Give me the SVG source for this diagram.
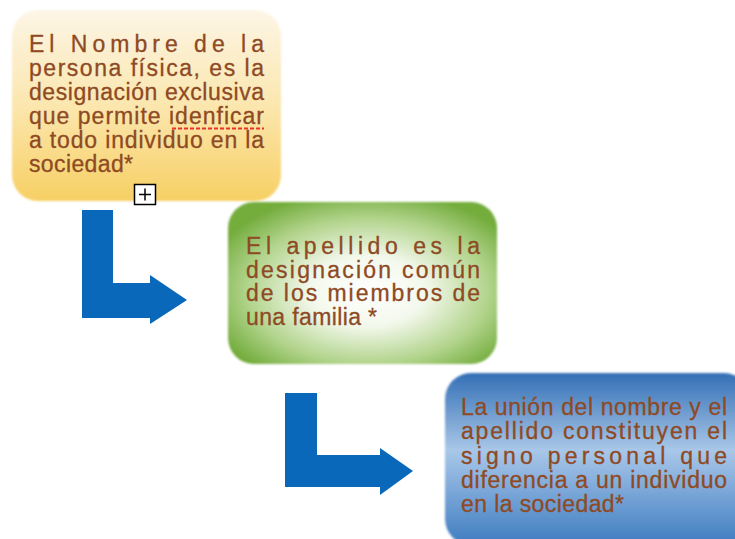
<svg xmlns="http://www.w3.org/2000/svg" width="735" height="539" viewBox="0 0 735 539">
<defs>
<linearGradient id="gYellow" x1="0" y1="0" x2="0" y2="1">
<stop offset="0" stop-color="#fdf6e6"/>
<stop offset="0.5" stop-color="#fbe6ae"/>
<stop offset="1" stop-color="#f7d064"/>
</linearGradient>
<radialGradient id="gGreen" cx="0.52" cy="0.55" r="0.62">
<stop offset="0" stop-color="#ffffff"/>
<stop offset="0.35" stop-color="#f3f8ec"/>
<stop offset="0.72" stop-color="#b2d48c"/>
<stop offset="1" stop-color="#74ad3e"/>
</radialGradient>
<linearGradient id="gBlue" x1="0" y1="0" x2="0" y2="1">
<stop offset="0" stop-color="#3470b6"/>
<stop offset="0.45" stop-color="#a9c7e8"/>
<stop offset="0.6" stop-color="#8cb3df"/>
<stop offset="1" stop-color="#3f7cc0"/>
</linearGradient>
<filter id="soft" x="-5%" y="-5%" width="110%" height="110%">
<feGaussianBlur stdDeviation="1"/>
</filter>
</defs>
<style>
.t{font-family:"Liberation Sans",Arial,sans-serif;font-size:23px;fill:#8e4a24;stroke:#8e4a24;stroke-width:0.3;}
.arrow{fill:#0968ba;}
</style>
<g id="node-nombre">
<rect x="12" y="10" width="269" height="191" rx="26" fill="url(#gYellow)" filter="url(#soft)"/>
<text class="t" x="29" y="52" textLength="235" lengthAdjust="spacing">El Nombre de la</text>
<text class="t" x="29" y="76" textLength="235" lengthAdjust="spacing">persona física, es la</text>
<text class="t" x="29" y="100" textLength="235" lengthAdjust="spacing">designación exclusiva</text>
<text class="t" x="29" y="124" textLength="235" lengthAdjust="spacing">que permite idenficar</text>
<line x1="172" y1="128.5" x2="264" y2="128.5" stroke="#e8322a" stroke-width="2" stroke-dasharray="4,2"/>
<text class="t" x="29" y="148" textLength="235" lengthAdjust="spacing">a todo individuo en la</text>
<text class="t" x="29" y="172" textLength="104" lengthAdjust="spacing">sociedad*</text>
<rect x="134.5" y="184.5" width="21" height="20" fill="#ffffff" stroke="#000000" stroke-width="1.5"/>
<path d="M139 194.5 H151 M145 188.5 V200.5" stroke="#000000" stroke-width="1.5" fill="none"/>
</g>
<g id="node-apellido">
<rect x="228" y="202" width="269" height="162" rx="26" fill="url(#gGreen)" filter="url(#soft)"/>
<text class="t" x="246" y="254" textLength="234" lengthAdjust="spacing">El apellido es la</text>
<text class="t" x="246" y="277.5" textLength="234" lengthAdjust="spacing">designación común</text>
<text class="t" x="246" y="301" textLength="234" lengthAdjust="spacing">de los miembros de</text>
<text class="t" x="246" y="325" textLength="131" lengthAdjust="spacing">una familia *</text>
</g>
<g id="node-union">
<rect x="445" y="373" width="305" height="172" rx="26" fill="url(#gBlue)" filter="url(#soft)"/>
<text class="t" x="461" y="415" textLength="266" lengthAdjust="spacing">La unión del nombre y el</text>
<text class="t" x="461" y="439" textLength="266" lengthAdjust="spacing">apellido constituyen el</text>
<text class="t" x="461" y="464" textLength="266" lengthAdjust="spacing">signo personal que</text>
<text class="t" x="461" y="488" textLength="266" lengthAdjust="spacing">diferencia a un individuo</text>
<text class="t" x="461" y="512" textLength="163" lengthAdjust="spacing">en la sociedad*</text>
</g>
<g id="connectors">
<path class="arrow" d="M82 210 H113 V283 H150 V275 L187 300 L150 324 V318 H82 Z"/>
<path class="arrow" d="M285 393 H317 V455 H380 V448 L413 471 L380 495 V487 H285 Z"/>
</g>
</svg>
